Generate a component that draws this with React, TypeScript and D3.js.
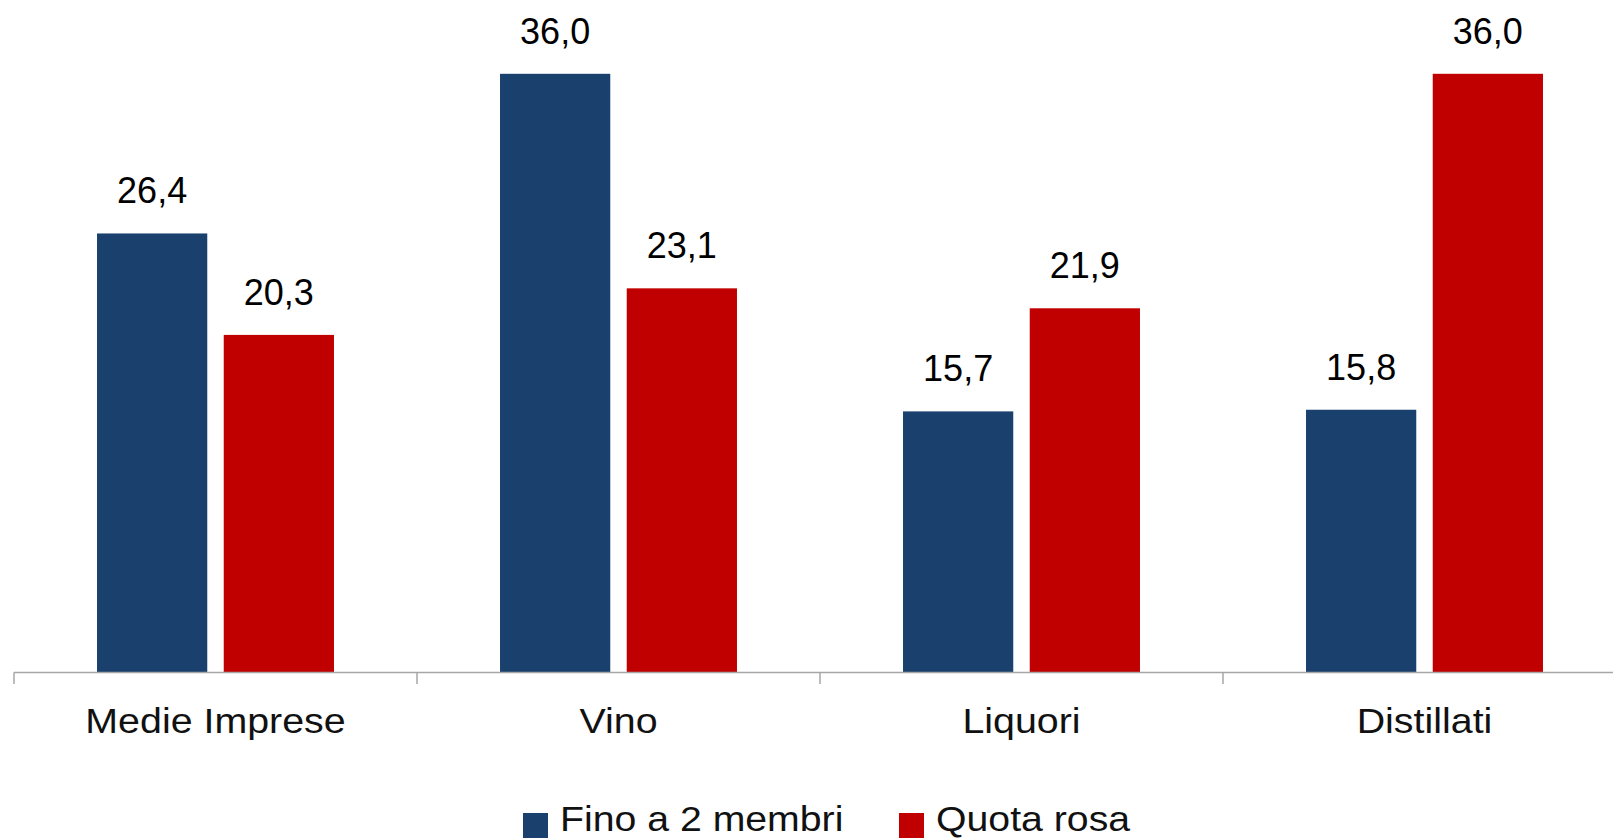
import React from "react";
import * as d3 from "d3";

const categories = ["Medie Imprese", "Vino", "Liquori", "Distillati"];
const seriesNames = ["Fino a 2 membri", "Quota rosa"];
const finoA2 = [26.4, 36.0, 15.7, 15.8];
const quotaRosa = [20.3, 23.1, 21.9, 36.0];
const seriesColors = ["#1A416D", "#C00000"];

const W = 1613;
const H = 838;
const FONT = "'Liberation Sans', Arial, sans-serif";

export default function App() {
  const values = [finoA2, quotaRosa];
  const x0 = d3.scaleBand<string>().domain(categories).range([14, 14 + 403 * 4]).padding(0);
  const bw = x0.bandwidth();
  const x1 = d3
    .scaleBand<string>()
    .domain(seriesNames)
    .range([bw * 0.206, bw * (1 - 0.206)])
    .paddingInner(0.13)
    .paddingOuter(0);
  const y = d3.scaleLinear().domain([0, 36]).range([672.5, 73.8]);
  const fmt = (v: number) => v.toFixed(1).replace(".", ",");
  const ticks = categories.map((c) => x0(c)!).concat([x0.range()[1]]);

  return (
    <svg
      width={W}
      height={H}
      style={{ position: "absolute", left: 0, top: 0, display: "block", background: "#fff" }}
    >
      <rect x={0} y={0} width={W} height={H} fill="#fff" />
      {categories.map((c, ci) => (
        <g key={c}>
          {seriesNames.map((s, si) => {
            const v = values[si][ci];
            const bx = x0(c)! + x1(s)!;
            return (
              <g key={s}>
                <rect
                  x={bx}
                  y={y(v)}
                  width={x1.bandwidth()}
                  height={y(0) - y(v)}
                  fill={seriesColors[si]}
                />
                <text
                  x={bx + x1.bandwidth() / 2}
                  y={y(v) - 30}
                  textAnchor="middle"
                  fontFamily={FONT}
                  fontSize={36}
                  fill="#000"
                >
                  {fmt(v)}
                </text>
              </g>
            );
          })}
          <g transform={`translate(${x0(c)! + bw / 2},733) scale(1.125,1)`}>
            <text x={0} y={0} textAnchor="middle" fontFamily={FONT} fontSize={35} fill="#111">
              {c}
            </text>
          </g>
        </g>
      ))}
      <line x1={14} x2={x0.range()[1]} y1={672.5} y2={672.5} stroke="#A6A6A6" strokeWidth={1.5} />
      {ticks.map((t, i) => (
        <line key={i} x1={t} x2={t} y1={672.5} y2={684} stroke="#A6A6A6" strokeWidth={1.5} />
      ))}
      {seriesNames.map((s, si) => {
        const lx = si === 0 ? 523 : 899;
        return (
          <g key={s}>
            <rect x={lx} y={813} width={25} height={25} fill={seriesColors[si]} />
            <g transform={`translate(${lx + 37},831) scale(1.09,1)`}>
              <text x={0} y={0} fontFamily={FONT} fontSize={36} fill="#111">
                {s}
              </text>
            </g>
          </g>
        );
      })}
    </svg>
  );
}
